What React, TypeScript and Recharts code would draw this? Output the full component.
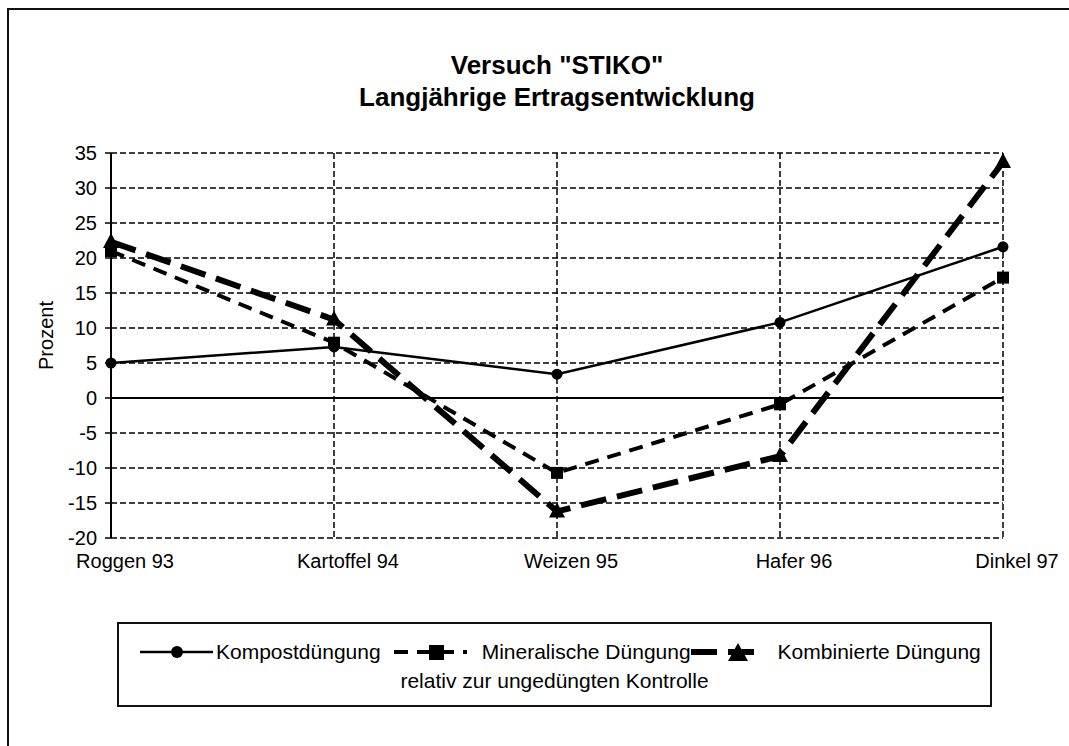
import React from 'react';
import { LineChart, Line, XAxis, YAxis, CartesianGrid, ReferenceLine } from 'recharts';

const crops = ['Roggen 93', 'Kartoffel 94', 'Weizen 95', 'Hafer 96', 'Dinkel 97'];
const kompost = [5, 7.3, 3.4, 10.8, 21.6];
const mineralisch = [21, 7.9, -10.7, -0.9, 17.2];
const kombiniert = [22.3, 11.2, -16.2, -8.3, 33.7];
const yTicks = [-20, -15, -10, -5, 0, 5, 10, 15, 20, 25, 30, 35];

const data = crops.map((name, i) => ({
  name,
  kompost: kompost[i],
  mineralisch: mineralisch[i],
  kombiniert: kombiniert[i],
}));

const FONT = '"Liberation Sans", Arial, sans-serif';

const Triangle = (props: any) => {
  const { cx, cy } = props;
  if (cx == null || cy == null) return null;
  return <polygon points={`${cx},${cy - 9} ${cx + 8},${cy + 6} ${cx - 8},${cy + 6}`} fill="#000" />;
};

const Square = (props: any) => {
  const { cx, cy } = props;
  if (cx == null || cy == null) return null;
  return <rect x={cx - 6} y={cy - 6} width={12} height={12} fill="#000" />;
};

const Dot = (props: any) => {
  const { cx, cy } = props;
  if (cx == null || cy == null) return null;
  return <circle cx={cx} cy={cy} r={5.5} fill="#000" />;
};

const series = [
  { key: 'kompost', label: 'Kompostdüngung', width: 2.5, dash: undefined, marker: 'circle', gap: 3, before: 0 },
  { key: 'mineralisch', label: 'Mineralische Düngung', width: 4, dash: '14 9', marker: 'square', gap: 15, before: 13 },
  { key: 'kombiniert', label: 'Kombinierte Düngung', width: 6, dash: '26 11', marker: 'triangle', gap: 14, before: 0 },
];

const LegendIcon = ({ s }: { s: (typeof series)[number] }) => (
  <svg width={73} height={20} style={{ display: 'block' }}>
    <line x1={0} y1={10} x2={73} y2={10} stroke="#000" strokeWidth={s.width} strokeDasharray={s.dash} />
    {s.marker === 'circle' && <circle cx={37} cy={10} r={6} fill="#000" />}
    {s.marker === 'square' && <rect x={35} y={3} width={15} height={15} fill="#000" />}
    {s.marker === 'triangle' && <polygon points="47,1 57,19 37,19" fill="#000" />}
  </svg>
);

const YLabel = (p: any) => {
  const vb = p.viewBox;
  const cx = vb.x + 46;
  const cy = vb.y + vb.height / 2 - 10;
  return (
    <text x={cx} y={cy} transform={`rotate(-90 ${cx} ${cy})`} textAnchor="middle" dominantBaseline="central"
      fontSize={20} fontFamily={FONT} fill="#000">
      Prozent
    </text>
  );
};

export default function App() {
  return (
    <div style={{ position: 'absolute', left: 0, top: 0, width: 1069, height: 746, overflow: 'hidden', background: '#fff', fontFamily: FONT }}>
      <div style={{ position: 'absolute', left: 7, top: 8, width: 1100, height: 800, borderTop: '2px solid #111', borderLeft: '2px solid #111' }} />
      <div style={{ position: 'absolute', left: 111, top: 49, width: 892, textAlign: 'center', fontWeight: 'bold', fontSize: 26, lineHeight: '32px', color: '#000' }}>
        <div>Versuch "STIKO"</div>
        <div>Langjährige Ertragsentwicklung</div>
      </div>
      <div style={{ position: 'absolute', left: 0, top: 0 }}>
        <LineChart width={1069} height={746} data={data} margin={{ top: 153, right: 66, bottom: 168, left: 0 }}>
          <CartesianGrid stroke="#000" strokeWidth={1.5} strokeDasharray="6 3" />
          <XAxis dataKey="name" axisLine={false} tickLine={false} height={40} tickMargin={10} interval={0}
            tick={{ fill: '#000', fontSize: 20, fontFamily: FONT, dx: 14 }} />
          <YAxis width={111} domain={[-20, 35]} ticks={yTicks} interval={0} axisLine={{ stroke: '#000', strokeWidth: 2 }}
            tickLine={{ stroke: '#000', strokeWidth: 1.5 }} tickSize={6} tickMargin={8}
            tick={{ fill: '#000', fontSize: 20, fontFamily: FONT }} label={{ position: 'insideLeft', content: YLabel }} />
          <ReferenceLine y={0} stroke="#000" strokeWidth={2} />
          {series.map((s) => (
            <Line key={s.key} dataKey={s.key} type="linear" stroke="#000" strokeWidth={s.width} strokeDasharray={s.dash}
              dot={s.marker === 'circle' ? <Dot /> : s.marker === 'square' ? <Square /> : <Triangle />}
              activeDot={false} isAnimationActive={false} />
          ))}
        </LineChart>
      </div>
      <div style={{ position: 'absolute', left: 117, top: 622, width: 871, height: 81, border: '2px solid #111', color: '#000', fontSize: 21 }}>
        <div style={{ display: 'flex', alignItems: 'center', paddingLeft: 21, marginTop: 16, height: 24 }}>
          {series.map((s) => (
            <div key={s.key} style={{ display: 'flex', alignItems: 'center', marginLeft: s.before }}>
              <LegendIcon s={s} />
              <span style={{ marginLeft: s.gap, whiteSpace: 'nowrap' }}>{s.label}</span>
            </div>
          ))}
        </div>
        <div style={{ textAlign: 'center', marginTop: 5 }}>relativ zur ungedüngten Kontrolle</div>
      </div>
    </div>
  );
}
